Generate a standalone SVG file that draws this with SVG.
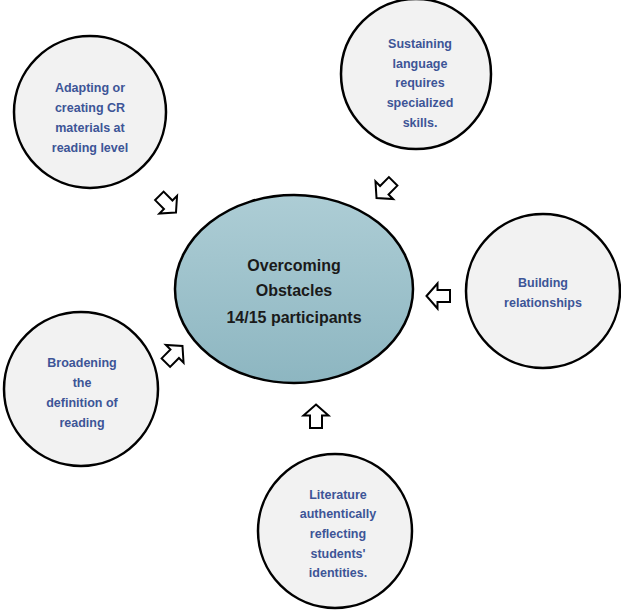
<svg xmlns="http://www.w3.org/2000/svg" width="621" height="614" viewBox="0 0 621 614">
<defs>
<linearGradient id="g" x1="0" y1="0" x2="0" y2="1">
<stop offset="0" stop-color="#adcdd5"/>
<stop offset="1" stop-color="#8db6c1"/>
</linearGradient>
<path id="arr" d="M0,-12 L12.5,-1 L6,-1 L6,11.5 L-6,11.5 L-6,-1 L-12.5,-1 Z"/>
</defs>
<style>
.n{fill:#f2f2f2;stroke:#000;stroke-width:2.5}
.t{font-family:"Liberation Sans",Arial,sans-serif;font-weight:bold;font-size:12.5px;fill:#3d5597;text-anchor:middle}
.c{font-family:"Liberation Sans",Arial,sans-serif;font-weight:bold;font-size:16px;fill:#1a1a1a;text-anchor:middle}
.a{fill:#fff;stroke:#000;stroke-width:2;stroke-linejoin:miter}
</style>
<rect width="621" height="614" fill="#fff"/>
<g id="center">
<ellipse cx="294" cy="289" rx="119" ry="94" fill="url(#g)" stroke="#000" stroke-width="2.5"/>
<text class="c" x="294" y="271">Overcoming</text>
<text class="c" x="294" y="296">Obstacles</text>
<text class="c" x="294" y="323">14/15 participants</text>
</g>
<g id="n1">
<circle class="n" cx="90" cy="112" r="76"/>
<text class="t" x="90" y="92">Adapting or</text>
<text class="t" x="90" y="112">creating CR</text>
<text class="t" x="90" y="132">materials at</text>
<text class="t" x="90" y="152">reading level</text>
</g>
<g id="n2">
<circle class="n" cx="416" cy="74" r="75"/>
<text class="t" x="420" y="48">Sustaining</text>
<text class="t" x="420" y="68">language</text>
<text class="t" x="420" y="87">requires</text>
<text class="t" x="420" y="107">specialized</text>
<text class="t" x="420" y="127">skills.</text>
</g>
<g id="n3">
<circle class="n" cx="543" cy="291" r="77"/>
<text class="t" x="543" y="287">Building</text>
<text class="t" x="543" y="307">relationships</text>
</g>
<g id="n4">
<circle class="n" cx="81" cy="389" r="77"/>
<text class="t" x="82" y="367">Broadening</text>
<text class="t" x="82" y="387">the</text>
<text class="t" x="82" y="407">definition of</text>
<text class="t" x="82" y="427">reading</text>
</g>
<g id="n5">
<circle class="n" cx="335" cy="531" r="77"/>
<text class="t" x="338" y="499">Literature</text>
<text class="t" x="338" y="518">authentically</text>
<text class="t" x="338" y="538">reflecting</text>
<text class="t" x="338" y="558">students'</text>
<text class="t" x="338" y="577">identities.</text>
</g>
<g id="connectors">
<use href="#arr" class="a" transform="translate(167.5,204) rotate(135)"/>
<use href="#arr" class="a" transform="translate(385,189.5) rotate(-135)"/>
<use href="#arr" class="a" transform="translate(438.5,296) rotate(-90)"/>
<use href="#arr" class="a" transform="translate(174,354.5) rotate(45)"/>
<use href="#arr" class="a" transform="translate(316,416.5)"/>
</g>
</svg>
